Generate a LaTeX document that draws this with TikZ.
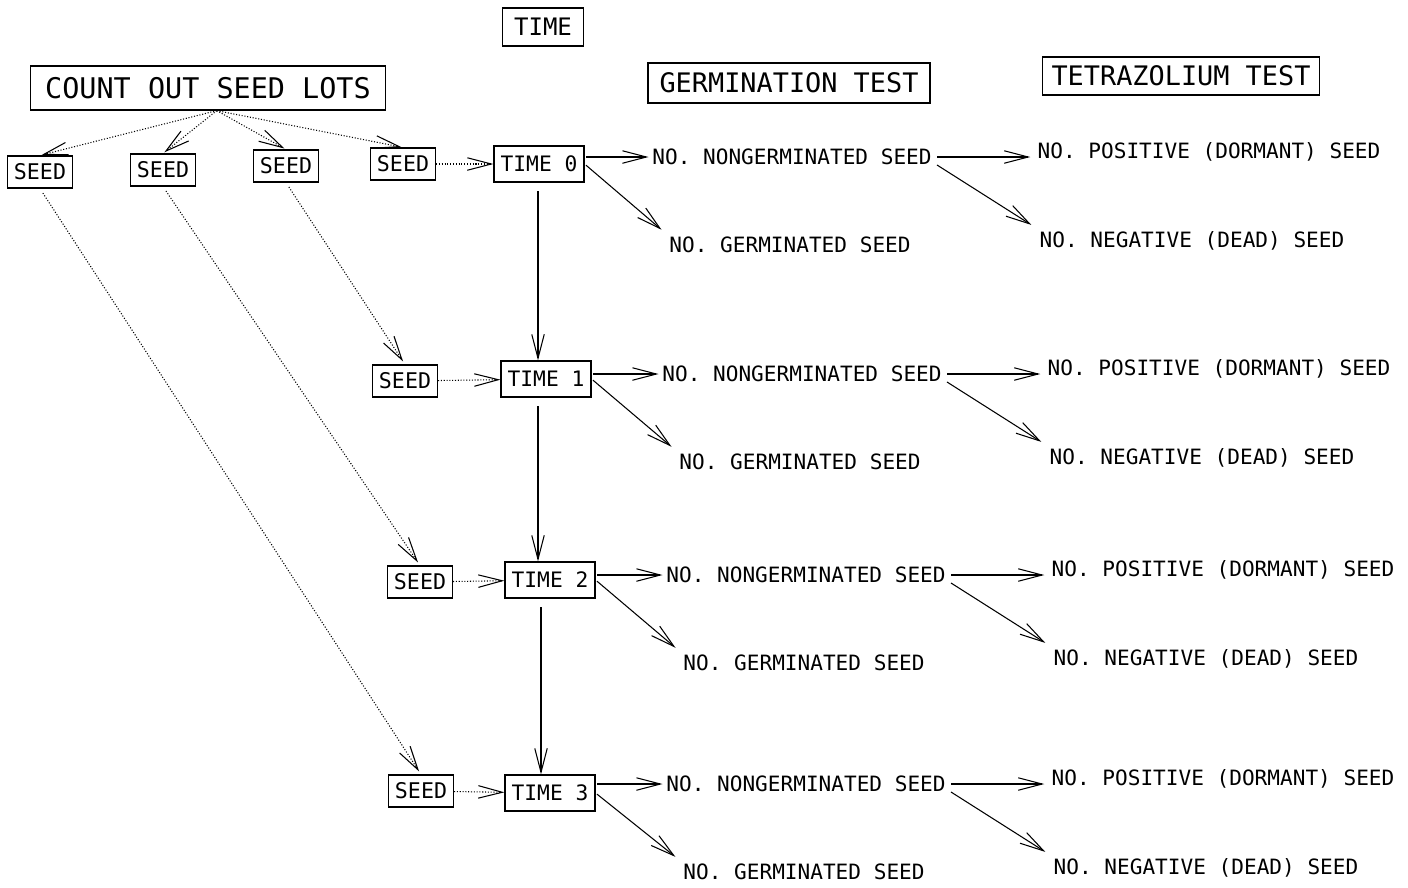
\documentclass[tikz,border=0pt]{standalone}
\usepackage{fontspec}
\setmainfont{DejaVu Sans Mono}
\usetikzlibrary{positioning,arrows.meta}

\begin{document}
\begin{tikzpicture}[x=0.02cm, y=-0.02cm,
  >={Straight Barb[length=4.8mm,width=2.5mm]},
  box/.style={draw, line width=0.7pt, inner sep=0pt},
  seedbox/.style={box, minimum width=1.3cm, minimum height=0.64cm, font=\fontsize{12.3}{14}\selectfont},
  timebox/.style={box, minimum width=1.8cm, minimum height=0.72cm, font=\fontsize{12.1}{14}\selectfont},
  lbl/.style={inner sep=2pt, font=\fontsize{12}{14}\selectfont},
  dotarrow/.style={->, densely dotted, line width=0.6pt},
  solidarrow/.style={->, line width=0.6pt}]
  \useasboundingbox (0,0) rectangle (1408,887);
  % Headings
  \node[box, minimum width=1.62cm, minimum height=0.76cm, font=\fontsize{13.7}{16}\selectfont] (time) at (543,27) {TIME};
  \node[box, minimum width=7.1cm, minimum height=0.88cm, font=\fontsize{16.2}{18}\selectfont] (count) at (208,88) {COUNT OUT SEED LOTS};
  \node[box, minimum width=5.64cm, minimum height=0.8cm, font=\fontsize{15.3}{18}\selectfont] (germ) at (789,83) {GERMINATION TEST};
  \node[box, minimum width=5.54cm, minimum height=0.76cm, font=\fontsize{15.3}{18}\selectfont] (tetra) at (1181,76) {TETRAZOLIUM TEST};
  % Seed lots
  \foreach \i/\x/\y in {1/40/172,2/163/170,3/286/166}
    \node[seedbox] (s\i) at (\x,\y) {SEED};
  % One row per time
  \foreach \r/\sx/\sy/\tx/\ty/\ny/\dx in {0/403/164/539/164/157/0,1/405/381/546/379/374/10,2/420/582/550/580/575/14,3/421/791/550/793/784/14}{
    \node[seedbox] (seed\r) at (\sx,\sy) {SEED};
    \node[timebox] (t\r) at (\tx,\ty) {TIME \r};
    \node[lbl] (n\r) at (792+\dx,\ny) {NO. NONGERMINATED SEED};
    \node[lbl] (g\r) at (790+\dx,\ny+88) {NO. GERMINATED SEED};
    \node[lbl] (p\r) at (1209+\dx,\ny-5) {NO. POSITIVE (DORMANT) SEED};
    \node[lbl] (q\r) at (1192+\dx,\ny+84) {NO. NEGATIVE (DEAD) SEED};
    \draw[dotarrow] (seed\r) -- (t\r);
    \draw[solidarrow, shorten <=1pt] (n\r.west -| t\r.east) -- (n\r.west);
    \draw[solidarrow, shorten <=1pt, shorten >=3pt] (t\r.east) -- (g\r.north west);
    \draw[solidarrow, shorten <=1pt, shorten >=2pt] (n\r.east) -- (n\r.east -| p\r.west);
    \draw[solidarrow, shorten <=1pt, shorten >=3pt] ([yshift=-4]n\r.east) -- (q\r.north west);
  }
  % Handing out
  \foreach \i in {1,2,3}
    \draw[dotarrow, shorten >=1pt] ([xshift=5]count.south) -- (s\i.north);
  \draw[dotarrow, shorten >=1pt] ([xshift=5]count.south) -- (seed0.north);
  \foreach \i/\r in {1/3,2/2,3/1}
    \draw[dotarrow, shorten <=3pt, shorten >=2pt] (s\i.south) -- (seed\r.north);
  \foreach \a/\b/\x in {0/1/538,1/2/538,2/3/541}
    \draw[solidarrow, shorten <=5pt] (\x,0 |- t\a.south) -- (\x,0 |- t\b.north);
\end{tikzpicture}
\end{document}
